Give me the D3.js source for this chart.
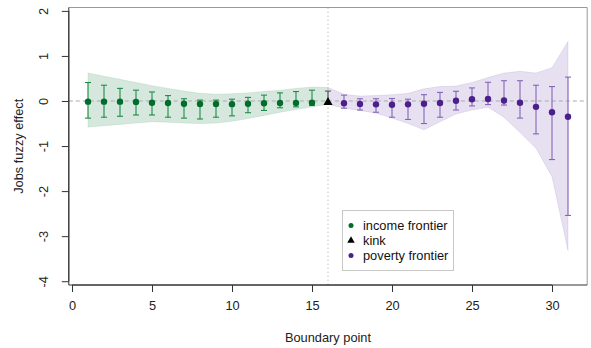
<!DOCTYPE html>
<html><head><meta charset="utf-8">
<script src="https://cdn.jsdelivr.net/npm/d3@7/dist/d3.min.js"></script>
<style>body{margin:0;background:#fff}svg{display:block}text{font-family:"Liberation Sans",Arial,sans-serif}</style>
</head><body>
<script>
// ---- data ----
const incomeX = [1,2,3,4,5,6,7,8,9,10,11,12,13,14,15];
const incomeEst = [-0.015,-0.015,-0.015,-0.02,-0.04,-0.045,-0.06,-0.067,-0.067,-0.07,-0.06,-0.05,-0.045,-0.045,-0.04];
const incomeLo  = [-0.38,-0.36,-0.34,-0.31,-0.31,-0.36,-0.38,-0.40,-0.36,-0.33,-0.26,-0.21,-0.15,-0.13,-0.10];
const incomeHi  = [0.41,0.35,0.28,0.24,0.20,0.12,0.05,0.02,0.02,0.04,0.08,0.13,0.18,0.21,0.24];
const kinkX = [16];
const kinkEst = [-0.03];
const kinkLo = [-0.07];
const kinkHi = [0.22];
const povertyX = [17,18,19,20,21,22,23,24,25,26,27,28,29,30,31];
const povertyEst = [-0.05,-0.067,-0.075,-0.085,-0.075,-0.06,-0.045,0.007,0.04,0.045,0.01,-0.04,-0.13,-0.25,-0.35];
const povertyLo  = [-0.16,-0.20,-0.25,-0.36,-0.41,-0.50,-0.36,-0.20,-0.11,-0.08,-0.09,-0.38,-0.73,-1.30,-2.54];
const povertyHi  = [0.13,0.05,0.05,0.055,0.04,0.14,0.19,0.215,0.29,0.415,0.45,0.45,0.35,0.32,0.53];
// confidence bands
const incomeBandX  = [1,2,3,4,5,6,7,8,9,10,11,12,13,14,15,16];
const incomeBandHi = [0.62,0.55,0.48,0.41,0.34,0.28,0.22,0.17,0.15,0.16,0.18,0.21,0.24,0.28,0.31,0.30];
const incomeBandLo = [-0.58,-0.55,-0.52,-0.49,-0.46,-0.47,-0.49,-0.50,-0.49,-0.45,-0.39,-0.32,-0.25,-0.19,-0.13,-0.07];
const povertyBandX  = [16,17,18,19,20,21,22,23,24,25,26,27,28,29,30,31];
const povertyBandHi = [0.30,0.15,0.11,0.12,0.14,0.17,0.27,0.32,0.33,0.41,0.52,0.62,0.66,0.62,0.74,1.32];
const povertyBandLo = [-0.07,-0.16,-0.21,-0.27,-0.38,-0.50,-0.64,-0.46,-0.29,-0.20,-0.14,-0.36,-0.70,-1.05,-1.68,-3.32];
const xTicks = [0,5,10,15,20,25,30];
const yTicks = [-4,-3,-2,-1,0,1,2];
const legendLabels = ["income frontier","kink","poverty frontier"];

const W=591,H=348;
const L=68.8,R=587.2,T=7.5,B=285;
const FS=12.8;
const x=d3.scaleLinear().domain([-0.2,32.2]).range([L,R]);
const y=d3.scaleLinear().domain([-4.084,2.075]).range([B,T]);
const svg=d3.select("body").append("svg").attr("width",W).attr("height",H);

const cG="#006d2c", cGbar="#1f8a48", cGfill="rgba(0,115,50,0.16)";
const cP="#4b1f8c", cPbar="#8466b8", cPfill="rgba(90,50,160,0.15)";

function band(xs,hi,lo,fill,stroke){
  const pts=xs.map((v,i)=>[x(v),y(hi[i])]).concat(xs.map((v,i)=>[x(v),y(lo[i])]).reverse());
  svg.append("path").attr("d",d3.line()(pts)+"Z").attr("fill",fill).attr("stroke",stroke).attr("stroke-width",0.6);
}
band(incomeBandX,incomeBandHi,incomeBandLo,cGfill,"rgba(0,120,50,0.18)");
band(povertyBandX,povertyBandHi,povertyBandLo,cPfill,"rgba(90,50,160,0.18)");

// reference lines
svg.append("line").attr("x1",L).attr("x2",R).attr("y1",y(0)).attr("y2",y(0))
  .attr("stroke","#aaa").attr("stroke-width",1).attr("stroke-dasharray","4,3");
svg.append("line").attr("x1",x(16)).attr("x2",x(16)).attr("y1",T).attr("y2",B)
  .attr("stroke","#c4c4c4").attr("stroke-width",1).attr("stroke-dasharray","1.5,2.5");

function bars(xs,lo,hi,col){
  const g=svg.append("g").attr("stroke",col).attr("stroke-width",1.1);
  xs.forEach((v,i)=>{
    const X=x(v);
    g.append("line").attr("x1",X).attr("x2",X).attr("y1",y(lo[i])).attr("y2",y(hi[i]));
    g.append("line").attr("x1",X-3).attr("x2",X+3).attr("y1",y(lo[i])).attr("y2",y(lo[i]));
    g.append("line").attr("x1",X-3).attr("x2",X+3).attr("y1",y(hi[i])).attr("y2",y(hi[i]));
  });
}
bars(incomeX,incomeLo,incomeHi,cGbar);
bars(povertyX,povertyLo,povertyHi,cPbar);
bars(kinkX,kinkLo,kinkHi,"#555");

svg.append("g").selectAll("circle").data(incomeX).join("circle")
  .attr("cx",d=>x(d)).attr("cy",(d,i)=>y(incomeEst[i])).attr("r",3.2).attr("fill",cG);
svg.append("g").selectAll("circle").data(povertyX).join("circle")
  .attr("cx",d=>x(d)).attr("cy",(d,i)=>y(povertyEst[i])).attr("r",3.2).attr("fill",cP);
const tri=d3.symbol().type(d3.symbolTriangle).size(36);
svg.append("g").selectAll("path").data(kinkX).join("path")
  .attr("d",tri).attr("transform",(d,i)=>`translate(${x(d)},${y(kinkEst[i])})`).attr("fill","#000");

// box
svg.append("line").attr("x1",L).attr("x2",R).attr("y1",T).attr("y2",T).attr("stroke","#999");
svg.append("line").attr("x1",R).attr("x2",R).attr("y1",T).attr("y2",B).attr("stroke","#999");
svg.append("line").attr("x1",L).attr("x2",R).attr("y1",B).attr("y2",B).attr("stroke","#333");
svg.append("line").attr("x1",L).attr("x2",L).attr("y1",T).attr("y2",B).attr("stroke","#333");

// axes
const xa=svg.append("g").attr("transform",`translate(0,${B})`)
  .call(d3.axisBottom(x).tickValues(xTicks).tickSize(7).tickPadding(9).tickSizeOuter(0));
xa.select(".domain").attr("d",`M${x(0)},0H${x(30)}`).attr("stroke","#333");
xa.selectAll(".tick line").attr("stroke","#333");
xa.selectAll("text").attr("font-size",FS).attr("fill","#222");
const ya=svg.append("g").attr("transform",`translate(${L},0)`)
  .call(d3.axisLeft(y).tickValues(yTicks).tickSize(7).tickFormat(d3.format("d")).tickSizeOuter(0));
ya.select(".domain").attr("d",`M0,${y(-4)}V${y(2)}`).attr("stroke","#333");
ya.selectAll(".tick line").attr("stroke","#333");
ya.selectAll("text").attr("font-size",FS).attr("fill","#222")
  .attr("transform","rotate(-90)").attr("x",0).attr("y",-25).attr("dy","0.35em").attr("text-anchor","middle")
  .text(d=>d<0?"-"+Math.abs(d):d);

svg.append("text").attr("x",(L+R)/2).attr("y",342).attr("text-anchor","middle").attr("font-size",FS).attr("fill","#222").text("Boundary point");
svg.append("text").attr("transform",`translate(23,${(T+B)/2}) rotate(-90)`).attr("text-anchor","middle").attr("font-size",FS).attr("fill","#222").text("Jobs fuzzy effect");

// legend
const lg=svg.append("g");
lg.append("rect").attr("x",342.5).attr("y",210.5).attr("width",111).attr("height",60).attr("fill","#fff").attr("stroke","#c8c8c8");
const lcols=[cG,"#000",cP];
legendLabels.forEach((t,i)=>{
  const yy=225.5+i*15;
  if(i===1) lg.append("path").attr("d",d3.symbol().type(d3.symbolTriangle).size(24)).attr("transform",`translate(351,${yy})`).attr("fill","#000");
  else lg.append("circle").attr("cx",351).attr("cy",yy).attr("r",2.5).attr("fill",lcols[i]);
  lg.append("text").attr("x",363).attr("y",yy).attr("dy","0.35em").attr("font-size",FS).attr("fill","#111").text(t);
});
</script>
</body></html>
